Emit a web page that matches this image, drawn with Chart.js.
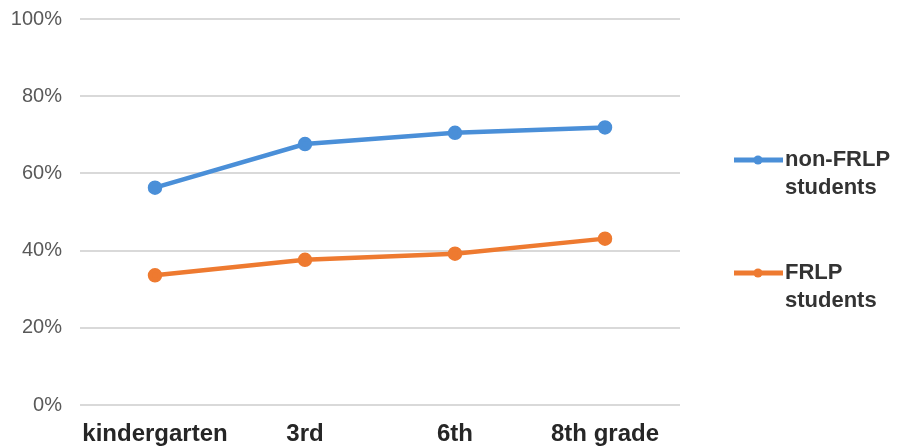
<!DOCTYPE html>
<html>
<head>
<meta charset="utf-8">
<script src="https://cdn.jsdelivr.net/npm/chart.js@4"></script>
<style>
  html, body { margin: 0; padding: 0; background: #fff; }
  #wrap { width: 903px; height: 447px; position: relative; }
</style>
</head>
<body>
<div id="wrap"><canvas id="chart"></canvas></div>
<script>
// data
const grades = ['kindergarten', '3rd', '6th', '8th grade'];
const nonFrlp = [56.3, 67.6, 70.5, 71.9];
const frlp = [33.6, 37.6, 39.2, 43.1];
const seriesNames = [['non-FRLP', 'students'], ['FRLP', 'students']];
const yTicks = [0, 20, 40, 60, 80, 100];

const BLUE = '#4a8fd8';
const ORANGE = '#ee7a30';

// legend on the right, two-line labels
const sideLegend = {
  id: 'sideLegend',
  afterDraw(chart) {
    const ctx = chart.ctx;
    const rows = [160, 273];
    chart.data.datasets.forEach((ds, i) => {
      const y = rows[i];
      ctx.save();
      ctx.strokeStyle = ds.borderColor;
      ctx.lineWidth = 5;
      ctx.beginPath();
      ctx.moveTo(734, y);
      ctx.lineTo(783, y);
      ctx.stroke();
      ctx.fillStyle = ds.borderColor;
      ctx.beginPath();
      ctx.arc(758, y, 4.5, 0, Math.PI * 2);
      ctx.fill();
      ctx.fillStyle = '#333';
      ctx.font = 'bold 22px "Liberation Sans", Arial, sans-serif';
      ctx.textBaseline = 'middle';
      ctx.fillText(ds.legendLines[0], 785, y);
      ctx.fillText(ds.legendLines[1], 785, y + 28);
      ctx.restore();
    });
  }
};

const ctx = document.getElementById('chart').getContext('2d');
new Chart(ctx, {
  type: 'line',
  data: {
    labels: grades,
    datasets: [
      { label: seriesNames[0].join(' '), legendLines: seriesNames[0], data: nonFrlp,
        borderColor: BLUE, backgroundColor: BLUE, borderWidth: 4.5, pointRadius: 5, pointHoverRadius: 5 },
      { label: seriesNames[1].join(' '), legendLines: seriesNames[1], data: frlp,
        borderColor: ORANGE, backgroundColor: ORANGE, borderWidth: 4.5, pointRadius: 5, pointHoverRadius: 5 }
    ]
  },
  options: {
    responsive: true,
    maintainAspectRatio: false,
    animation: false,
    layout: { padding: { top: 19, right: 223, left: 0, bottom: 0 } },
    plugins: { legend: { display: false }, tooltip: { enabled: false } },
    scales: {
      x: {
        offset: true,
        grid: { display: false, drawTicks: false },
        border: { display: false },
        ticks: {
          color: '#262626', padding: 15, maxRotation: 0,
          font: { family: '"Liberation Sans", Arial, sans-serif', size: 24, weight: 'bold' }
        },
        afterFit(scale) { scale.height = 42; scale.paddingLeft = 0; scale.paddingRight = 0; }
      },
      y: {
        min: 0, max: 100,
        afterBuildTicks(scale) { scale.ticks = yTicks.map(v => ({ value: v })); },
        grid: { color: '#d9d9d9', lineWidth: 2, drawTicks: false },
        border: { display: false },
        ticks: {
          color: '#595959', padding: 18,
          font: { family: '"Liberation Sans", Arial, sans-serif', size: 20 },
          callback: v => v + '%'
        },
        afterFit(scale) { scale.width = 80; scale.paddingTop = 0; scale.paddingBottom = 0; }
      }
    }
  },
  plugins: [sideLegend]
});
</script>
</body>
</html>
